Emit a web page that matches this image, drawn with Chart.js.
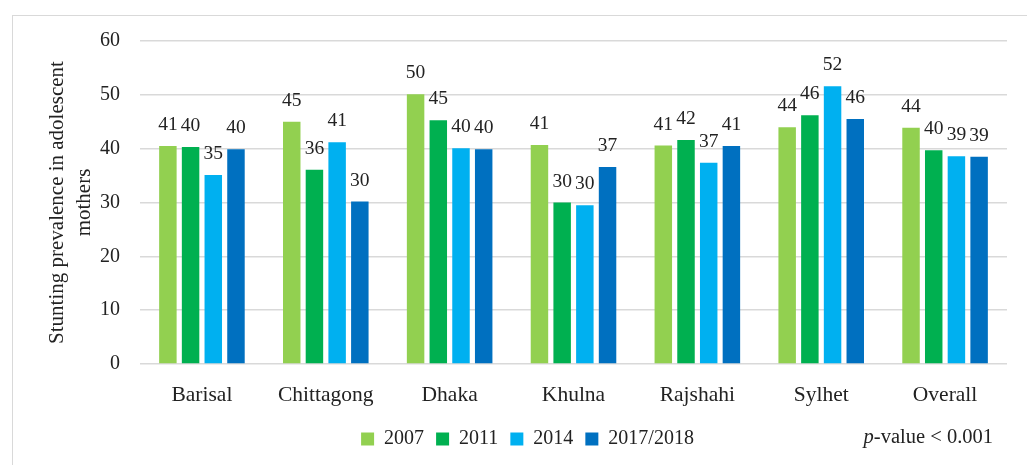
<!DOCTYPE html>
<html lang="en">
<head>
    <meta charset="UTF-8">
    <title>Stunting prevalence in adolescent mothers</title>
    <script src="https://cdn.jsdelivr.net/npm/chart.js@4.4.0/dist/chart.umd.min.js"></script>
    <style>
        body { margin: 0; background: #fff; }
        #wrap { width: 1027px; height: 465px; }
    </style>
</head>
<body>
    <div id="wrap"><canvas id="chart" width="1027" height="465"></canvas></div>

    <script>
        const regions = ['Barisal', 'Chittagong', 'Dhaka', 'Khulna', 'Rajshahi', 'Sylhet', 'Overall'];
        const years = ['2007', '2011', '2014', '2017/2018'];
        const v2007 = [40.5, 45.0, 50.1, 40.7, 40.6, 44.0, 43.9];
        const v2011 = [40.3, 36.1, 45.3, 30.0, 41.6, 46.2, 39.7];
        const v2014 = [35.1, 41.2, 40.1, 29.5, 37.4, 51.6, 38.6];
        const v2017 = [39.9, 30.2, 39.9, 36.6, 40.5, 45.5, 38.5];
        const colors = ['#92D050', '#00B050', '#00B0F0', '#0070C0'];
        const yTicks = [0, 10, 20, 30, 40, 50, 60];

        const serif = '"Liberation Serif", "DejaVu Serif", serif';
        const textColor = '#222';

        // light frame around the figure
        const framePlugin = {
            id: 'frame',
            beforeDraw(chart) {
                const ctx = chart.ctx;
                ctx.save();
                ctx.strokeStyle = '#d9d9d9';
                ctx.lineWidth = 1;
                ctx.strokeRect(12.5, 15.5, 1100, 600);
                ctx.restore();
            }
        };

        // value labels above the bars
        const valueLabels = {
            id: 'valueLabels',
            afterDatasetsDraw(chart) {
                const ctx = chart.ctx;
                ctx.save();
                ctx.font = '19.5px ' + serif;
                ctx.fillStyle = textColor;
                ctx.textAlign = 'center';
                ctx.textBaseline = 'middle';
                chart.data.datasets.forEach((ds, i) => {
                    chart.getDatasetMeta(i).data.forEach((bar, j) => {
                        ctx.fillText(Math.round(ds.data[j]), bar.x, bar.y - 21);
                    });
                });
                ctx.restore();
            }
        };

        // p-value note at the bottom right
        const pNote = {
            id: 'pNote',
            afterDraw(chart) {
                const ctx = chart.ctx;
                const rest = '-value < 0.001';
                ctx.save();
                ctx.fillStyle = textColor;
                ctx.textBaseline = 'middle';
                ctx.font = '20.5px ' + serif;
                const wRest = ctx.measureText(rest).width;
                ctx.font = 'italic 20.5px ' + serif;
                const wP = ctx.measureText('p').width;
                const x = chart.chartArea.right - 14 - wRest - wP;
                const y = 438;
                ctx.fillText('p', x, y);
                ctx.font = '20.5px ' + serif;
                ctx.fillText(rest, x + wP, y);
                ctx.restore();
            }
        };

        const series = [v2007, v2011, v2014, v2017];

        new Chart(document.getElementById('chart'), {
            type: 'bar',
            data: {
                labels: regions,
                datasets: years.map((y, i) => ({
                    label: y,
                    data: series[i],
                    backgroundColor: colors[i],
                    borderWidth: 0,
                    categoryPercentage: 0.733,
                    barPercentage: 0.77
                }))
            },
            options: {
                responsive: false,
                animation: false,
                layout: { padding: { left: 48, right: 20, top: 41, bottom: 6 } },
                plugins: {
                    legend: {
                        position: 'bottom',
                        labels: {
                            boxWidth: 13,
                            boxHeight: 13,
                            padding: 12,
                            color: textColor,
                            font: { family: serif, size: 20 }
                        }
                    },
                    tooltip: { enabled: false }
                },
                scales: {
                    x: {
                        grid: { display: false },
                        border: { display: false },
                        ticks: { color: textColor, padding: 10, font: { family: serif, size: 21.5 } },
                        afterFit(s) { s.height = 53; }
                    },
                    y: {
                        min: 0,
                        max: 60,
                        afterBuildTicks(s) { s.ticks = yTicks.map(v => ({ value: v })); },
                        grid: { color: '#d9d9d9', lineWidth: 1.5, drawTicks: false },
                        border: { display: false },
                        ticks: { color: textColor, padding: 20, font: { family: serif, size: 20 } },
                        title: {
                            display: true,
                            text: ['Stunting prevalence in adolescent', 'mothers'],
                            color: textColor,
                            font: { family: serif, size: 21, lineHeight: 1.3 },
                            padding: { top: -4.6, bottom: 0 }
                        },
                        afterFit(s) { s.width = 92; }
                    }
                }
            },
            plugins: [framePlugin, valueLabels, pNote]
        });
    </script>
</body>
</html>
